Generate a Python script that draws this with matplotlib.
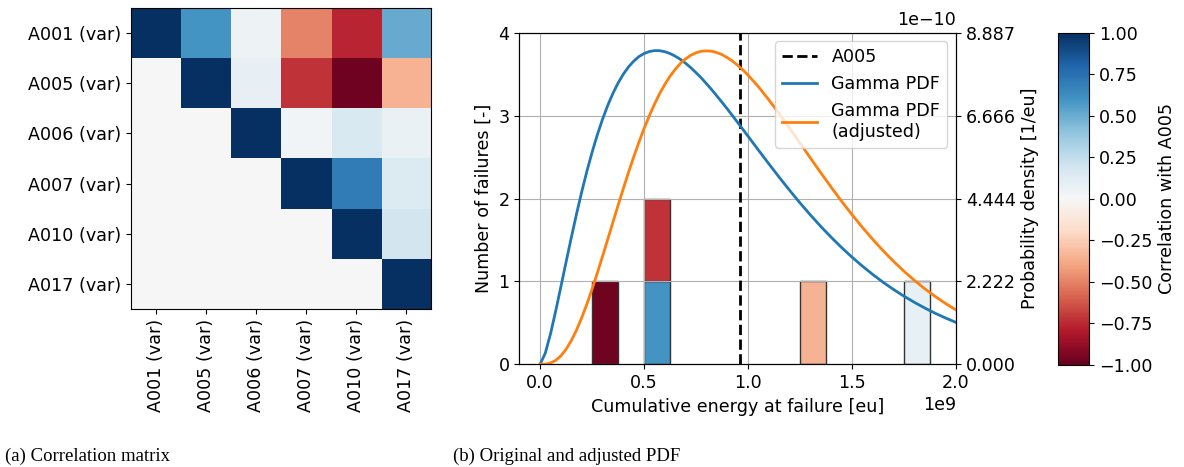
import numpy as np
import matplotlib
matplotlib.use("Agg")
import matplotlib.pyplot as plt
from matplotlib.ticker import FuncFormatter

# variables in the correlation matrix
names = ["A001 (var)", "A005 (var)", "A006 (var)", "A007 (var)", "A010 (var)", "A017 (var)"]
# upper triangle of the correlation matrix (lower triangle drawn as 0)
corr = np.array([
    [1.00, 0.60, 0.05, -0.50, -0.76, 0.50],
    [0.00, 1.00, 0.08, -0.72, -0.97, -0.35],
    [0.00, 0.00, 1.00, 0.03, 0.15, 0.07],
    [0.00, 0.00, 0.00, 1.00, 0.70, 0.14],
    [0.00, 0.00, 0.00, 0.00, 1.00, 0.18],
    [0.00, 0.00, 0.00, 0.00, 0.00, 1.00],
])

# failures: cumulative energy at failure [eu] and correlation with A005
fail_names = ["A010", "A001", "A007", "A017", "A006"]
fail_energy = [0.30e9, 0.55e9, 0.60e9, 1.30e9, 1.80e9]
fail_corr = [-0.97, 0.60, -0.72, -0.35, 0.08]
a005_energy = 0.96e9
bin_width = 0.125e9

# PDF curves, x in 1e9 eu, density in 1e-10 per eu
pdf_x = [0.0, 0.025, 0.05, 0.075, 0.1, 0.125, 0.15, 0.175, 0.2, 0.225,
         0.25, 0.275, 0.3, 0.325, 0.35, 0.375, 0.4, 0.425, 0.45, 0.475,
         0.5, 0.525, 0.55, 0.575, 0.6, 0.625, 0.65, 0.675, 0.7, 0.725,
         0.75, 0.775, 0.8, 0.825, 0.85, 0.875, 0.9, 0.925, 0.95, 0.975,
         1.0, 1.05, 1.1, 1.15, 1.2, 1.25, 1.3, 1.35, 1.4, 1.45,
         1.5, 1.55, 1.6, 1.65, 1.7, 1.75, 1.8, 1.85, 1.9, 1.95, 2.0]
gamma_pdf = [0.0, 0.299, 0.815, 1.427, 2.081, 2.743, 3.395, 4.025, 4.619, 5.173,
             5.682, 6.148, 6.564, 6.935, 7.259, 7.539, 7.774, 7.970, 8.125, 8.247,
             8.330, 8.383, 8.408, 8.406, 8.379, 8.330, 8.259, 8.173, 8.069, 7.949,
             7.817, 7.678, 7.522, 7.363, 7.194, 7.024, 6.847, 6.666, 6.483, 6.298,
             6.113, 5.742, 5.374, 5.013, 4.663, 4.325, 4.003, 3.695, 3.405, 3.130,
             2.872, 2.632, 2.407, 2.198, 2.005, 1.826, 1.661, 1.509, 1.369, 1.241, 1.124]
gamma_adj = [0.0, 0.005, 0.034, 0.105, 0.227, 0.403, 0.634, 0.916, 1.246, 1.615,
             2.017, 2.444, 2.889, 3.344, 3.803, 4.260, 4.706, 5.141, 5.556, 5.949,
             6.320, 6.658, 6.970, 7.256, 7.504, 7.722, 7.907, 8.066, 8.189, 8.284,
             8.350, 8.391, 8.402, 8.391, 8.356, 8.300, 8.222, 8.128, 8.017, 7.891,
             7.752, 7.440, 7.089, 6.717, 6.327, 5.928, 5.529, 5.133, 4.746, 4.371,
             4.012, 3.670, 3.347, 3.043, 2.759, 2.494, 2.251, 2.025, 1.819, 1.630, 1.458]
pdf_max = 8.8874e-10

plt.rcParams['font.size'] = 12.6
cmap = plt.get_cmap("RdBu")
norm = plt.Normalize(-1, 1)

fig = plt.figure(figsize=(11.84, 4.67), dpi=100)

# (a) correlation matrix
ax0 = fig.add_axes([0.1106, 0.3383, 0.2534, 0.6445])
ax0.imshow(corr, cmap=cmap, norm=norm, aspect="auto")
ax0.set_xticks(range(len(names)))
ax0.set_xticklabels(names, rotation=90)
ax0.set_yticks(range(len(names)))
ax0.set_yticklabels(names)

# (b) histogram + pdfs
ax = fig.add_axes([0.4386, 0.2199, 0.3688, 0.710])
counts = {}
for e, c in zip(fail_energy, fail_corr):
    left = np.floor(e / bin_width) * bin_width
    bottom = counts.get(left, 0)
    ax.bar(left, 1, width=bin_width, bottom=bottom, align="edge",
           color=cmap(norm(c)), edgecolor="#333333", linewidth=1)
    counts[left] = bottom + 1
ax.set_xlim(-0.1e9, 2.0e9)
ax.set_ylim(0, 4)
ax.set_yticks([0, 1, 2, 3, 4])
ax.grid(True, color="#b0b0b0", linewidth=0.8)
ax.set_xlabel("Cumulative energy at failure [eu]")
ax.set_ylabel("Number of failures [-]")

ax2 = ax.twinx()
xs = np.array(pdf_x) * 1e9
l0 = ax2.axvline(a005_energy, color="black", linestyle="--", linewidth=2, label="A005")
l1, = ax2.plot(xs, np.array(gamma_pdf) * 1e-10, color="#1f77b4", linewidth=2, label="Gamma PDF")
l2, = ax2.plot(xs, np.array(gamma_adj) * 1e-10, color="#ff7f0e", linewidth=2,
               label="Gamma PDF\n(adjusted)")
ax2.set_ylim(0, pdf_max)
ax2.set_yticks(np.linspace(0, pdf_max, 5))
ax2.yaxis.set_major_formatter(FuncFormatter(lambda v, p: f"{v * 1e10:.3f}"))
ax2.text(1.0, 1.01, "1e\u221210", transform=ax2.transAxes, ha="right", va="bottom")
ax2.set_ylabel("Probability density [1/eu]")
ax2.legend(handles=[l0, l1, l2], loc="upper right")

# colorbar
cax = fig.add_axes([0.8938, 0.2184, 0.0259, 0.7116])
sm = matplotlib.cm.ScalarMappable(norm=norm, cmap=cmap)
cb = fig.colorbar(sm, cax=cax)
cb.set_ticks(np.arange(-1, 1.01, 0.25))
cb.set_label("Correlation with A005")

fig.text(0.004, 0.012, "(a) Correlation matrix", family="Liberation Serif", fontsize=13.5)
fig.text(0.383, 0.012, "(b) Original and adjusted PDF", family="Liberation Serif", fontsize=13.5)

fig.savefig("out.png", dpi=100)
